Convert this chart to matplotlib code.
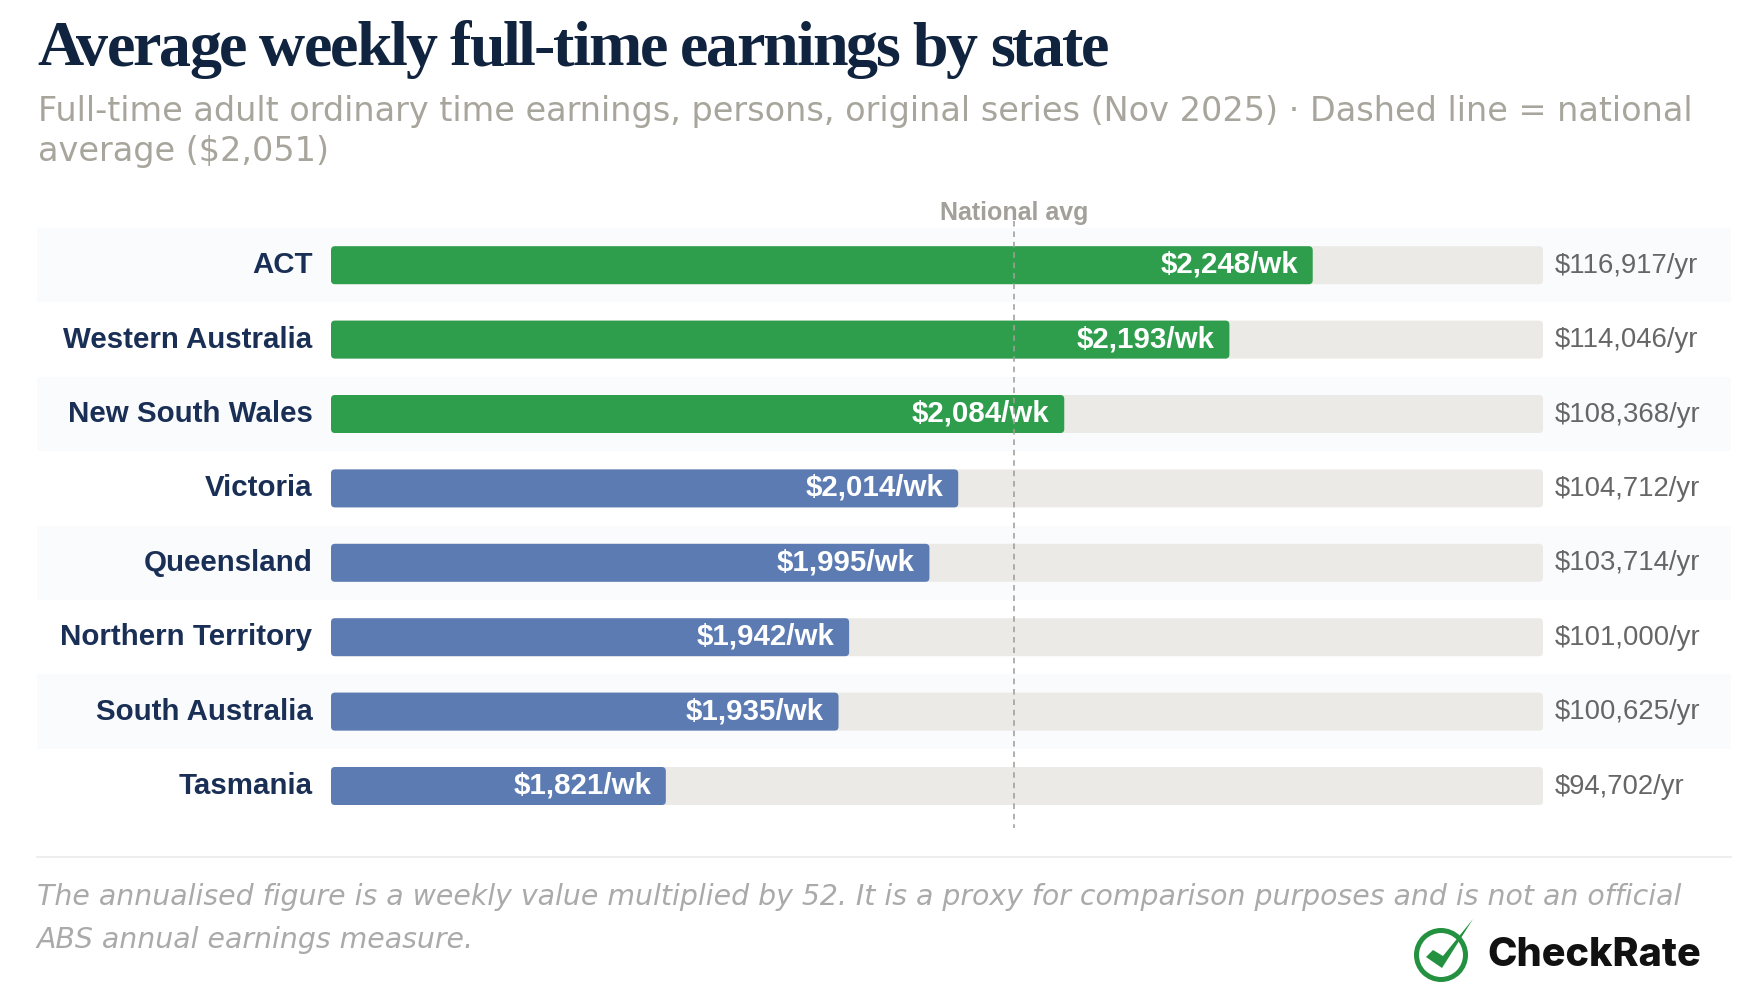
import matplotlib
matplotlib.use('Agg')
import matplotlib.pyplot as plt
from matplotlib.patches import FancyBboxPatch, Circle, Polygon, Rectangle
from matplotlib.text import Text
from matplotlib.transforms import Bbox, blended_transform_factory

states = ['ACT', 'Western Australia', 'New South Wales', 'Victoria', 'Queensland',
          'Northern Territory', 'South Australia', 'Tasmania']
weekly = [2248, 2193, 2084, 2014, 1995, 1942, 1935, 1821]
annual = ['$116,917/yr', '$114,046/yr', '$108,368/yr', '$104,712/yr', '$103,714/yr',
          '$101,000/yr', '$100,625/yr', '$94,702/yr']
national_avg = 2051
x_min = 1600
x_max = 2400

NAVY = '#1a2f55'
GREEN = '#2e9e4d'
BLUE = '#5b7bb2'
TRACK = '#eceae6'
STRIPE = '#fafbfd'
W, H = 1760, 1000


def pt(pixels):
    return pixels * 0.72


class TrackedText(Text):
    # a Text that keeps its whole string but draws it with letter spacing
    spacing = 0

    def draw(self, renderer):
        s = self.get_text()
        prop = self.get_fontproperties()
        x0, y0 = self.get_transform().transform(self.get_position())
        gc = renderer.new_gc()
        gc.set_foreground(self.get_color())
        gc.set_antialiased(True)
        for n, ch in enumerate(s):
            if ch == ' ':
                continue
            whole = renderer.get_text_width_height_descent(s[:n + 1], prop, False)[0]
            own = renderer.get_text_width_height_descent(ch, prop, False)[0]
            renderer.draw_text(gc, x0 + whole - own + n * self.spacing, renderer.height - y0, ch, prop, 0)
        gc.restore()

    def get_window_extent(self, renderer=None, dpi=None):
        box = super().get_window_extent(renderer, dpi)
        return Bbox.from_bounds(box.x0, box.y0, box.width + self.spacing * (len(self.get_text()) - 1), box.height)


fig = plt.figure(figsize=(W / 100, H / 100), dpi=100, facecolor='white')

# overlay in pixel units for the header, footer and logo
over = fig.add_axes([0, 0, 1, 1], zorder=5)
over.set_xlim(0, W)
over.set_ylim(H, 0)
over.axis('off')

# chart axes: the x range runs exactly along the grey tracks
row_h = 74.4
left, right, top = 331, 1543, 228
ax = fig.add_axes([left / W, 1 - (top + 8 * row_h) / H, (right - left) / W, 8 * row_h / H], zorder=2)
ax.set_xlim(x_min, x_max)
ax.set_ylim(7.5, -0.5)
ax.axis('off')

x_unit = (right - left) / (x_max - x_min)
aspect = x_unit / row_h
radius = 4 / x_unit
bar_h = 38 / row_h


def round_bar(i, value, color, z):
    ax.add_patch(FancyBboxPatch((x_min, i - bar_h / 2), value - x_min, bar_h,
                                boxstyle='round,pad=0,rounding_size=%f' % radius,
                                mutation_aspect=aspect, fc=color, ec='none', zorder=z))


for i in range(len(states)):
    if i % 2 == 0:
        fig.add_artist(Rectangle((37 / W, 1 - (top + (i + 1) * row_h) / H), 1694 / W, row_h / H,
                                 fc=STRIPE, ec='none', transform=fig.transFigure, zorder=0))
    color = GREEN if weekly[i] > national_avg else BLUE
    round_bar(i, x_max, TRACK, 1)
    round_bar(i, weekly[i], color, 2)
    ax.annotate(states[i], (x_min, i), xytext=(pt(-18.5), 0), textcoords='offset points',
                ha='right', va='center', fontsize=pt(29.5), fontweight='bold',
                family='Liberation Sans', color=NAVY, annotation_clip=False)
    ax.annotate('${:,}/wk'.format(weekly[i]), (weekly[i], i), xytext=(pt(-14.5), pt(0.5)),
                textcoords='offset points', ha='right', va='center', fontsize=pt(29.5),
                fontweight='bold', family='Liberation Sans', color='white', zorder=3)
    ax.annotate(annual[i], (x_max, i), xytext=(pt(12), pt(-0.5)), textcoords='offset points',
                ha='left', va='center', fontsize=pt(27.5), family='Liberation Sans',
                color='#666666', annotation_clip=False)

# national average marker
trans = blended_transform_factory(ax.transData, fig.transFigure)
ax.plot([national_avg, national_avg], [1 - 221 / H, 1 - 828 / H], transform=trans, color='#9f9f9b',
        lw=pt(1.6), dashes=(3.5, 3), zorder=4, clip_on=False)
ax.text(national_avg, 1 - 213 / H, 'National avg', transform=trans, ha='center', va='center',
        fontsize=pt(25), fontweight='bold', family='Liberation Sans', color='#a3a09a')

# header
title = TrackedText(37, 65, 'Average weekly full-time earnings by state', fontsize=pt(64),
                    fontweight='bold', family='Liberation Serif', color='#10233f',
                    va='baseline', ha='left')
title.spacing = -2.05
over.add_artist(title)
over.text(38, 111, 'Full-time adult ordinary time earnings, persons, original series (Nov 2025) \u00b7 Dashed line = national',
          fontsize=pt(33.55), family='DejaVu Sans', color='#a8a59c', va='center', ha='left')
over.text(38, 151, 'average ($2,051)', fontsize=pt(33.55), family='DejaVu Sans', color='#a8a59c',
          va='center', ha='left')

# footer
over.plot([37, 1731], [857, 857], color='#eeeeee', lw=pt(2))
over.text(37, 897, 'The annualised figure is a weekly value multiplied by 52. It is a proxy for comparison purposes and is not an official',
          fontsize=pt(28.35), style='italic', family='DejaVu Sans', color='#aaaaaa', va='center', ha='left')
over.text(37, 940, 'ABS annual earnings measure.', fontsize=pt(28.35), style='italic', family='DejaVu Sans',
          color='#aaaaaa', va='center', ha='left')

# logo
over.add_patch(Circle((1441, 955), 24.5, fc='none', ec='#23913f', lw=pt(5)))
over.add_patch(Polygon([(1426, 957), (1433, 950), (1443, 956), (1473, 919), (1442, 968)],
                       closed=True, fc='#23913f', ec='none'))
over.text(1487, 955, 'CheckRate', fontsize=pt(39.6), fontweight=800, family='Inter',
          color='#111111', va='center', ha='left')

fig.savefig('out.png', dpi=100, facecolor='white')
